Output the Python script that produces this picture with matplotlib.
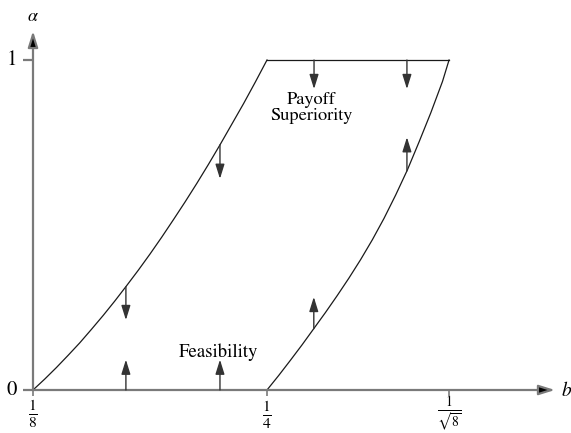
import matplotlib
matplotlib.use("Agg")
import matplotlib.pyplot as plt

plt.rcParams["font.family"] = ["STIXGeneral", "DejaVu Serif"]
plt.rcParams["mathtext.fontset"] = "stix"

# Schematic horizontal positions: 1/8 -> 0, 1/4 -> 1, 1/sqrt(8) -> 1.778
x_tick_pos = [0.0, 1.0, 1.778]
x_tick_labels = [r"$\frac{1}{8}$", r"$\frac{1}{4}$", r"$\frac{1}{\sqrt{8}}$"]
y_tick_pos = [0.0, 1.0]
y_tick_labels = ["0", "1"]

# Lower boundary of payoff superiority (left curve)
left_x = [0.0, 0.05, 0.1, 0.15, 0.2, 0.25, 0.3, 0.35, 0.4, 0.45, 0.5,
          0.55, 0.6, 0.65, 0.7, 0.75, 0.8, 0.85, 0.9, 0.95, 1.0]
left_y = [0.0, 0.033, 0.068, 0.105, 0.143, 0.184, 0.226, 0.27, 0.316, 0.363, 0.412,
          0.463, 0.516, 0.57, 0.626, 0.684, 0.744, 0.806, 0.868, 0.933, 1.0]

# Feasibility boundary (right curve)
right_x = [1.0, 1.05, 1.1, 1.15, 1.2, 1.25, 1.3, 1.35, 1.4, 1.45, 1.5,
           1.55, 1.6, 1.65, 1.7, 1.75, 1.778]
right_y = [0.0, 0.044, 0.09, 0.137, 0.186, 0.235, 0.286, 0.339, 0.395, 0.455, 0.52,
           0.591, 0.667, 0.752, 0.84, 0.935, 1.0]

# Direction arrows: (x, start y, end y)
arrow_x = [0.397, 0.799, 0.397, 0.799, 1.201, 1.598, 1.200, 1.598]
arrow_y0 = [0.313, 0.743, 0.0, 0.0, 1.0, 1.0, 0.186, 0.664]
arrow_y1 = [0.212, 0.640, 0.092, 0.092, 0.912, 0.912, 0.282, 0.766]

W, H = 571, 433
X0, Y0 = 33, 390          # pixel position of the origin
SX, SY = 234.0, 330.0     # pixels per data unit

fig = plt.figure(figsize=(W / 100, H / 100), dpi=100)
ax = fig.add_axes([0, 0, 1, 1])
ax.set_xlim(-X0 / SX, (W - X0) / SX)
ax.set_ylim(-(H - Y0) / SY, Y0 / SY)
ax.axis("off")

axis_col = "#7a7a7a"
head = "-|>,head_length=0.8,head_width=0.25"

# Coordinate axes with arrowheads
x_end = (555 - X0) / SX
y_end = (Y0 - 31) / SY
ax.annotate("", xy=(x_end, 0), xytext=(0, 0),
            arrowprops=dict(arrowstyle=head, mutation_scale=12, shrinkA=0, shrinkB=0,
                            lw=1.6, ec=axis_col, fc="black"))
ax.annotate("", xy=(0, y_end), xytext=(0, 0),
            arrowprops=dict(arrowstyle=head, mutation_scale=12, shrinkA=0, shrinkB=0,
                            lw=1.6, ec=axis_col, fc="black"))

# Ticks and tick labels (the radical label is set a bit tighter to fit the bottom edge)
label_drop = [9, 9, 4]
label_size = [16, 16, 14]
for pos, lab, drop, size in zip(x_tick_pos, x_tick_labels, label_drop, label_size):
    ax.plot([pos, pos], [0, -6 / SY], color=axis_col, lw=1.2, solid_capstyle="butt")
    ax.annotate(lab, xy=(pos, 0), xytext=(0, -drop), textcoords="offset pixels",
                ha="center", va="top", fontsize=size)
for pos, lab in zip(y_tick_pos, y_tick_labels):
    ax.plot([-10 / SX, 0], [pos, pos], color=axis_col, lw=1.6, solid_capstyle="butt")
    ax.annotate(lab, xy=(0, pos), xytext=(-21, 0), textcoords="offset pixels",
                ha="center", va="center", fontsize=15)

# Axis names
ax.annotate(r"$\alpha$", xy=(0, y_end), xytext=(0, 6), textcoords="offset pixels",
            ha="center", va="bottom", fontsize=13)
ax.annotate(r"$b$", xy=(x_end, 0), xytext=(6, 0), textcoords="offset pixels",
            ha="left", va="center", fontsize=14)

# Region boundaries
curve_col = "#1a1a1a"
ax.plot(left_x, left_y, color=curve_col, lw=0.9)
ax.plot(right_x, right_y, color=curve_col, lw=0.9)
ax.plot([left_x[-1], right_x[-1]], [left_y[-1], right_y[-1]], color=curve_col, lw=0.9)

# Direction arrows
for x, y0, y1 in zip(arrow_x, arrow_y0, arrow_y1):
    ax.annotate("", xy=(x, y1), xytext=(x, y0),
                arrowprops=dict(arrowstyle=head, mutation_scale=11, shrinkA=0, shrinkB=0,
                                lw=1.0, color="#333333"))

# Region labels
ax.text((311 - X0) / SX, (Y0 - 108) / SY, "Payoff\nSuperiority",
        ha="center", va="center", fontsize=13.2, linespacing=1.05)
ax.text((218 - X0) / SX, (Y0 - 352) / SY, "Feasibility",
        ha="center", va="center", fontsize=13.5)

fig.savefig("out.png", dpi=100)
